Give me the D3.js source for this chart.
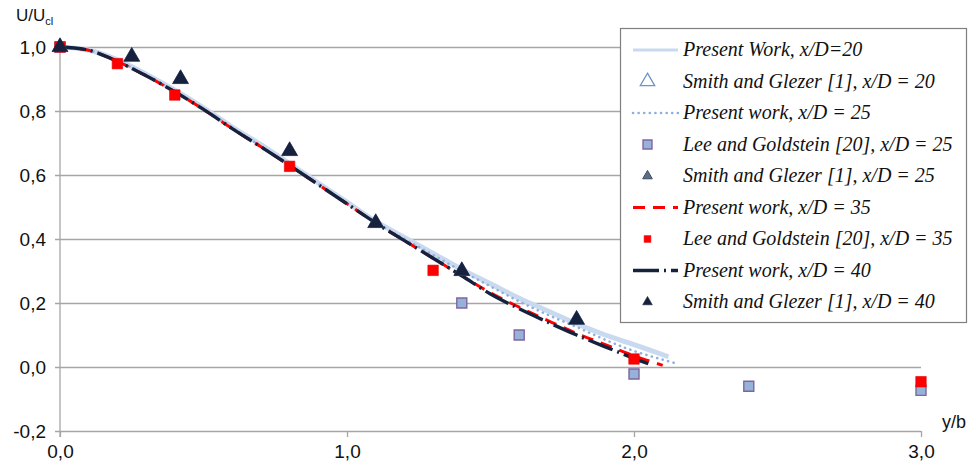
<!DOCTYPE html>
<html>
<head>
<meta charset="utf-8">
<script src="https://cdn.jsdelivr.net/npm/d3@7"></script>
<style>
  body { margin: 0; background: #fff; }
  svg { display: block; }
</style>
</head>
<body>
<svg id="chart"></svg>
<script>
// y/b positions and U/Ucl values
const pw20 = [[0,1.0],[0.1,0.99],[0.2,0.96],[0.3,0.915],[0.4,0.865],[0.5,0.81],[0.6,0.75],[0.7,0.695],[0.8,0.635],[0.9,0.575],[1.0,0.515],[1.1,0.455],[1.2,0.405],[1.3,0.355],[1.4,0.305],[1.5,0.26],[1.6,0.215],[1.7,0.175],[1.8,0.135],[1.9,0.10],[2.0,0.07],[2.12,0.032]];
const pw25 = [[0,1.0],[0.1,0.99],[0.2,0.957],[0.3,0.912],[0.4,0.862],[0.5,0.807],[0.6,0.748],[0.7,0.69],[0.8,0.632],[0.9,0.572],[1.0,0.512],[1.1,0.452],[1.2,0.4],[1.3,0.35],[1.4,0.30],[1.5,0.252],[1.6,0.205],[1.7,0.163],[1.8,0.125],[1.9,0.085],[2.0,0.05],[2.14,0.013]];
const pw35 = [[0,1.0],[0.1,0.99],[0.2,0.955],[0.3,0.91],[0.4,0.86],[0.5,0.805],[0.6,0.745],[0.7,0.688],[0.8,0.63],[0.9,0.57],[1.0,0.51],[1.1,0.45],[1.2,0.395],[1.3,0.34],[1.4,0.285],[1.5,0.232],[1.6,0.187],[1.7,0.145],[1.8,0.105],[1.9,0.07],[2.0,0.035],[2.1,0.005]];
const pw40 = [[0,1.0],[0.1,0.99],[0.2,0.955],[0.3,0.91],[0.4,0.86],[0.5,0.805],[0.6,0.745],[0.7,0.688],[0.8,0.63],[0.9,0.57],[1.0,0.51],[1.1,0.45],[1.2,0.395],[1.3,0.34],[1.4,0.285],[1.5,0.228],[1.6,0.182],[1.7,0.14],[1.8,0.10],[1.9,0.063],[2.0,0.027],[2.05,0.01]];

const sg20 = [[0,1.0],[0.25,0.97],[0.42,0.90],[0.8,0.675],[1.1,0.45],[1.4,0.30],[1.8,0.148]];
const sg25 = [[0,1.0],[0.25,0.97],[0.42,0.90],[0.8,0.675],[1.1,0.45],[1.4,0.30],[1.8,0.148]];
const sg40 = [[0,1.0],[0.25,0.97],[0.42,0.90],[0.8,0.675],[1.1,0.45],[1.4,0.30],[1.8,0.148]];
const lg25 = [[0,1.0],[1.4,0.20],[1.6,0.10],[2.0,-0.022],[2.4,-0.06],[3.0,-0.073]];
const lg35 = [[0,1.0],[0.2,0.948],[0.4,0.85],[0.8,0.627],[1.3,0.302],[2.0,0.025],[3.0,-0.046]];

const yTicks = [-0.2, 0, 0.2, 0.4, 0.6, 0.8, 1.0];
const xTicks = [0, 1, 2, 3];

const legendLabels = [
  "Present Work, x/D=20",
  "Smith and Glezer [1], x/D = 20",
  "Present work, x/D = 25",
  "Lee and Goldstein [20], x/D = 25",
  "Smith and Glezer [1], x/D = 25",
  "Present work, x/D = 35",
  "Lee and Goldstein [20], x/D = 35",
  "Present work, x/D = 40",
  "Smith and Glezer [1], x/D = 40"
];

const width = 976, height = 467;
const svg = d3.select("#chart").attr("width", width).attr("height", height);

const x = d3.scaleLinear().domain([0, 3]).range([60, 921]);
const y = d3.scaleLinear().domain([-0.2, 1.0]).range([431, 47]);

const loc = d3.formatLocale({decimal: ",", thousands: ".", grouping: [3], currency: ["", ""], minus: "-"});
const fmt = loc.format(".1f");

// grid + y axis
const yAxis = svg.append("g")
  .attr("transform", `translate(${x(0)},0)`)
  .call(d3.axisLeft(y).tickValues(yTicks).tickFormat(fmt).tickSize(-(x(3) - x(0))).tickPadding(14))
  .attr("font-family", "Liberation Sans").attr("font-size", 19);
yAxis.select(".domain").remove();
yAxis.selectAll(".tick line").attr("stroke", "#a6a6a6").attr("stroke-width", 1.3).attr("x1", -5);
yAxis.selectAll(".tick text").attr("fill", "#111");

const xAxis = svg.append("g")
  .attr("transform", `translate(0,${y(-0.2)})`)
  .call(d3.axisBottom(x).tickValues(xTicks).tickFormat(fmt).tickSize(6).tickPadding(8))
  .attr("font-family", "Liberation Sans").attr("font-size", 19);
xAxis.select(".domain").remove();
xAxis.selectAll(".tick line").attr("stroke", "#a6a6a6").attr("stroke-width", 1.3);
xAxis.selectAll(".tick text").attr("fill", "#111");

svg.append("line")
  .attr("x1", x(0)).attr("x2", x(0))
  .attr("y1", y(1.0)).attr("y2", y(-0.2) + 6)
  .attr("stroke", "#a6a6a6").attr("stroke-width", 1.3);

// axis titles
const yt = svg.append("text").attr("x", 16).attr("y", 21)
  .attr("font-family", "Liberation Sans").attr("font-size", 17).attr("fill", "#111");
yt.append("tspan").text("U/U");
yt.append("tspan").attr("font-size", 11).attr("dy", 4).text("cl");
svg.append("text").attr("x", 942).attr("y", 428)
  .attr("font-family", "Liberation Sans").attr("font-size", 18).attr("fill", "#111").text("y/b");

// lines
const line = d3.line().x(d => x(d[0])).y(d => y(d[1])).curve(d3.curveCatmullRom);

const lineStyles = [
  {data: pw20, stroke: "#c9daf0", width: 5, dash: null, cap: "butt"},
  {data: pw25, stroke: "#8fb0dc", width: 2.6, dash: "0.1,5.5", cap: "round"},
  {data: pw35, stroke: "#ff0000", width: 3, dash: "12,8", cap: "butt"},
  {data: pw40, stroke: "#15213d", width: 3.4, dash: "26,5,2,5", cap: "butt"}
];
svg.append("g").selectAll("path").data(lineStyles).join("path")
  .attr("d", d => line(d.data))
  .attr("fill", "none")
  .attr("stroke", d => d.stroke)
  .attr("stroke-width", d => d.width)
  .attr("stroke-dasharray", d => d.dash)
  .attr("stroke-linecap", d => d.cap);

// markers
const markerStyles = [
  {data: sg20, type: d3.symbolTriangle, size: 90, fill: "#fff", stroke: "#6f94c8", sw: 1.3},
  {data: sg25, type: d3.symbolTriangle, size: 60, fill: "#5d7089", stroke: "#3b4a60", sw: 1},
  {data: lg25, type: d3.symbolSquare, size: 100, fill: "#95b3d7", stroke: "#8064a2", sw: 1.4},
  {data: lg35, type: d3.symbolSquare, size: 110, fill: "#ff0000", stroke: "#e00000", sw: 0.6},
  {data: sg40, type: d3.symbolTriangle, size: 110, fill: "#15213d", stroke: "#15213d", sw: 0.6}
];
markerStyles.forEach(m => {
  svg.append("g").selectAll("path").data(m.data).join("path")
    .attr("transform", d => `translate(${x(d[0])},${y(d[1])})`)
    .attr("d", d3.symbol().type(m.type).size(m.size))
    .attr("fill", m.fill)
    .attr("stroke", m.stroke)
    .attr("stroke-width", m.sw);
});

// legend
const lg = svg.append("g");
lg.append("rect").attr("x", 620.5).attr("y", 28.5).attr("width", 346).attr("height", 294)
  .attr("fill", "#fff").attr("stroke", "#7f7f7f").attr("stroke-width", 1.2);

const rowY = i => 50 + i * 31.5;
const sampleX0 = 633, sampleX1 = 678;
const legendKeys = [
  {kind: "line", s: lineStyles[0]},
  {kind: "mark", m: markerStyles[0]},
  {kind: "line", s: lineStyles[1]},
  {kind: "mark", m: markerStyles[2], size: 80},
  {kind: "mark", m: markerStyles[1], size: 40},
  {kind: "line", s: lineStyles[2]},
  {kind: "mark", m: markerStyles[3], size: 45},
  {kind: "line", s: lineStyles[3]},
  {kind: "mark", m: markerStyles[4], size: 40}
];
legendKeys.forEach((k, i) => {
  const cy = rowY(i);
  if (k.kind === "line") {
    lg.append("line").attr("x1", sampleX0).attr("x2", sampleX1).attr("y1", cy).attr("y2", cy)
      .attr("stroke", k.s.stroke).attr("stroke-width", k.s.width === 5 ? 3 : k.s.width)
      .attr("stroke-dasharray", k.s.dash).attr("stroke-linecap", k.s.cap);
  } else {
    lg.append("path").attr("transform", `translate(${(sampleX0 + sampleX1) / 2 - 8},${cy})`)
      .attr("d", d3.symbol().type(k.m.type).size(k.size || k.m.size))
      .attr("fill", k.m.fill).attr("stroke", k.m.stroke).attr("stroke-width", k.m.sw);
  }
  lg.append("text").attr("x", 683).attr("y", cy + 6)
    .attr("font-family", "Liberation Serif").attr("font-style", "italic")
    .attr("font-size", 20).attr("fill", "#111").text(legendLabels[i]);
});
</script>
</body>
</html>
